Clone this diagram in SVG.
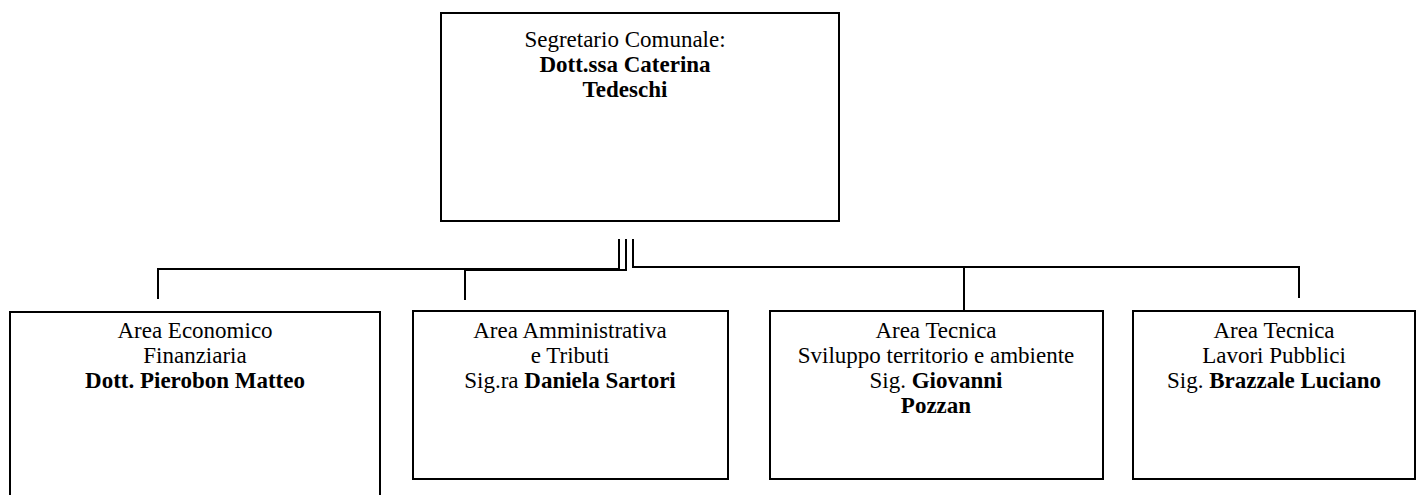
<svg xmlns="http://www.w3.org/2000/svg" width="1416" height="495" viewBox="0 0 1416 495">
<style>
.box{fill:#fff;stroke:#000;stroke-width:2}
.con{fill:none;stroke:#000;stroke-width:2}
text{font-family:"Liberation Serif","Times New Roman",serif;font-size:23px;fill:#000;text-anchor:middle}
.b{font-weight:bold}
</style>
<rect width="1416" height="495" fill="#fff"/>
<g id="connectors">
<polyline class="con" points="619,239 619,269 158,269 158,299"/>
<polyline class="con" points="626,239 626,270 465,270 465,300"/>
<polyline class="con" points="633,239 633,267 1299,267 1299,298"/>
<line class="con" x1="964" y1="267" x2="964" y2="310"/>
</g>
<g id="segretario">
<rect class="box" x="441" y="13" width="398" height="208"/>
<text x="625" y="47">Segretario Comunale:</text>
<text x="625" y="72" class="b">Dott.ssa Caterina</text>
<text x="625" y="97" class="b">Tedeschi</text>
</g>
<g id="area-economico">
<rect class="box" x="10" y="312" width="370" height="190"/>
<text x="195" y="338">Area Economico</text>
<text x="195" y="363">Finanziaria</text>
<text x="195" y="388" class="b">Dott. Pierobon Matteo</text>
</g>
<g id="area-amministrativa">
<rect class="box" x="413" y="311" width="315" height="168"/>
<text x="570" y="338">Area Amministrativa</text>
<text x="570" y="363">e Tributi</text>
<text x="570" y="388">Sig.ra <tspan class="b">Daniela Sartori</tspan></text>
</g>
<g id="area-tecnica-sviluppo">
<rect class="box" x="770" y="311" width="333" height="168"/>
<text x="936" y="338">Area Tecnica</text>
<text x="936" y="363">Sviluppo territorio e ambiente</text>
<text x="936" y="388">Sig. <tspan class="b">Giovanni</tspan></text>
<text x="936" y="413" class="b">Pozzan</text>
</g>
<g id="area-tecnica-lavori">
<rect class="box" x="1133" y="311" width="282" height="168"/>
<text x="1274" y="338">Area Tecnica</text>
<text x="1274" y="363">Lavori Pubblici</text>
<text x="1274" y="388">Sig. <tspan class="b">Brazzale Luciano</tspan></text>
</g>
</svg>
